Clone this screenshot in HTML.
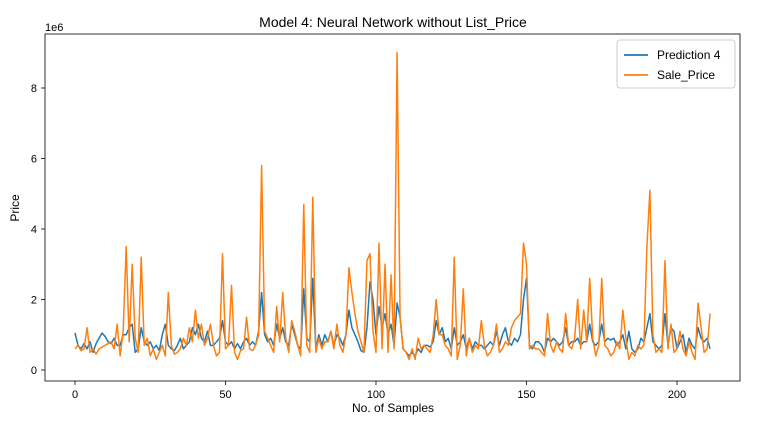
<!DOCTYPE html>
<html><head><meta charset="utf-8"><style>
body{margin:0;background:#fff;font-family:"Liberation Sans",sans-serif;}
svg text{font-family:"Liberation Sans",sans-serif;fill:#000;}
</style></head><body>
<svg id="chart" width="775" height="425">
<text x="393" y="27" font-size="14" text-anchor="middle">Model 4: Neural Network without List_Price</text>
<g id="plot"></g>
<rect x="45" y="34" width="695" height="347" fill="none" stroke="#000" stroke-width="0.8"/>
<text x="45" y="31" font-size="11">1e6</text>
<text x="393" y="412" font-size="12" text-anchor="middle">No. of Samples</text>
<text x="19" y="208" font-size="12" text-anchor="middle" transform="rotate(-90 19 208)">Price</text>
<g>
<rect x="617" y="40" width="118" height="48" rx="3" fill="#fff" stroke="#ccc"/>
<line x1="624" y1="55" x2="648" y2="55" stroke="#1f77b4" stroke-width="1.8"/>
<text x="657" y="59" font-size="12">Prediction 4</text>
<line x1="624" y1="75" x2="648" y2="75" stroke="#ff7f0e" stroke-width="1.8"/>
<text x="657" y="79" font-size="12">Sale_Price</text>
</g>
</svg>
<script>
const xTicks=[0,50,100,150,200];
const yTicks=[0,2,4,6,8];
const salePrice=[0.6,0.7,0.55,0.6,1.2,0.5,0.6,0.45,0.6,0.65,
0.7,0.75,0.8,0.6,1.3,0.4,1.1,3.5,0.8,3.0,
0.9,0.5,3.2,0.7,0.9,0.4,0.6,0.3,0.5,0.7,
0.4,2.2,0.7,0.45,0.5,0.6,0.9,0.7,1.2,0.8,
1.7,0.9,1.3,0.7,0.9,1.3,0.7,0.4,0.5,3.3,
0.6,0.7,2.4,0.5,0.3,0.55,0.6,1.5,0.6,0.55,
0.7,1.0,5.8,1.1,0.9,0.7,0.5,1.8,0.8,2.2,
0.9,0.5,1.4,1.1,0.7,0.4,4.7,0.7,0.5,4.9,
0.5,0.9,0.6,0.8,0.8,1.1,0.6,1.3,0.7,0.5,
1.0,2.9,2.2,1.6,1.1,0.8,0.5,3.1,3.3,1.1,
0.5,3.6,0.6,3.0,0.5,2.7,0.6,9.0,1.5,0.6,
0.5,0.3,0.6,0.3,0.9,0.6,0.7,0.6,0.5,1.0,
2.0,1.0,1.0,0.7,0.6,0.4,3.2,0.3,0.7,2.3,
0.4,0.9,0.5,0.7,0.6,1.4,0.7,0.4,0.5,0.7,
1.3,0.5,0.6,0.8,0.7,1.2,1.4,1.5,1.6,3.6,
3.0,0.6,0.7,0.6,0.6,0.5,0.4,1.6,0.7,0.5,
0.8,0.6,0.5,1.6,0.7,0.6,0.9,2.0,0.6,1.7,
0.8,2.6,0.9,0.4,0.7,2.6,0.7,0.6,0.4,0.5,
0.8,0.6,1.7,0.9,0.3,0.5,0.4,0.7,0.6,0.7,
3.5,5.1,1.0,0.5,0.6,0.5,3.1,0.6,1.3,0.5,
0.6,1.1,0.6,0.4,0.8,0.5,0.3,1.9,1.2,0.5,0.6,1.6];
const prediction=[1.05,0.7,0.6,0.75,0.6,0.8,0.5,0.75,0.9,1.05,
0.95,0.8,0.75,0.9,0.7,0.7,1.0,1.0,1.2,1.3,
0.5,0.6,1.2,0.8,0.7,0.8,0.6,0.7,0.55,1.0,
1.3,0.7,0.6,0.55,0.7,0.9,0.6,0.7,0.8,1.2,
1.0,1.3,0.9,0.8,1.1,0.7,0.7,0.8,0.9,1.4,
0.8,0.7,0.8,0.6,0.75,0.6,0.8,0.9,0.7,0.8,
0.7,1.1,2.2,1.0,0.8,0.9,0.7,1.3,0.9,1.2,
0.8,0.7,1.3,1.0,0.7,0.6,2.3,0.9,0.8,2.6,
0.6,1.0,0.7,1.0,0.8,1.1,0.7,1.0,0.9,0.7,
1.0,1.7,1.2,1.0,0.8,0.55,0.5,1.2,2.5,2.0,
1.0,1.8,1.2,1.6,1.0,1.3,0.7,1.9,1.5,0.6,
0.5,0.4,0.5,0.4,0.6,0.5,0.7,0.7,0.65,0.8,
1.4,1.0,1.2,0.8,0.9,0.6,1.2,0.7,0.8,1.0,
0.6,0.9,0.6,0.8,0.7,0.7,0.6,0.7,0.8,0.7,
1.1,0.7,1.0,1.2,0.8,0.7,0.9,0.8,1.0,2.0,
2.6,0.7,0.6,0.8,0.8,0.7,0.5,0.9,0.8,0.9,
0.8,0.7,0.8,1.2,0.7,0.8,0.8,0.9,0.7,0.8,
0.8,1.3,0.8,0.7,0.8,1.3,0.8,0.9,0.85,0.9,
0.7,0.8,1.0,0.6,1.1,0.6,0.5,0.6,0.9,0.8,
1.2,1.6,0.8,0.7,0.6,0.7,1.6,0.7,1.2,1.1,
0.6,0.8,1.0,0.5,0.9,0.7,0.6,1.2,0.9,0.8,0.9,0.6];
const NS="http://www.w3.org/2000/svg";
const xs=v=>75+v*3.01;
const ys=v=>370-v*35.25;
const g=document.getElementById('plot');
function mk(t,a){const e=document.createElementNS(NS,t);for(const k in a)e.setAttribute(k,a[k]);return e;}
xTicks.forEach(t=>{
  const l=mk('line',{x1:xs(t),x2:xs(t),y1:381,y2:385,stroke:'#000','stroke-width':0.8});
  
  
  g.appendChild(l);
  const tx=mk('text',{x:xs(t),y:398,'font-size':11,'text-anchor':'middle'});
  tx.textContent=t;
  
  
  g.appendChild(tx);
});
yTicks.forEach(t=>{
  const l=mk('line',{x1:41,x2:45,y1:ys(t),y2:ys(t),stroke:'#000','stroke-width':0.8});
  
  
  g.appendChild(l);
  const tx=mk('text',{x:37,y:ys(t)+4,'font-size':11,'text-anchor':'end'});
  tx.textContent=t;
  
  
  g.appendChild(tx);
});
function line(arr,color,name){
  const p=mk('polyline',{points:arr.map((v,i)=>xs(i)+','+ys(v)).join(' '),fill:'none',stroke:color,'stroke-width':1.5,'stroke-linejoin':'round'});
  
  
  g.appendChild(p);
}
line(prediction,'#1f77b4','prediction-4-line');
line(salePrice,'#ff7f0e','sale-price-line');
</script>
</body></html>
